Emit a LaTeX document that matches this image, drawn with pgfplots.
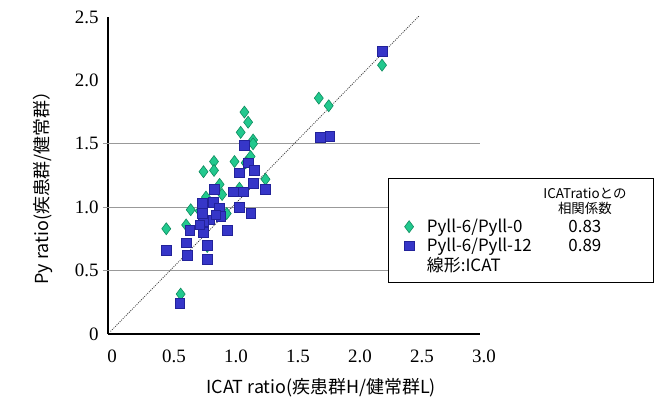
\documentclass[border=0pt]{standalone}
\usepackage{fontspec}
\setmainfont{Liberation Serif}
\newfontfamily\jp{Noto Sans CJK JP}
\usepackage{pgfplots}
\pgfplotsset{compat=1.18}
\definecolor{mgreen}{HTML}{22C88E}
\definecolor{mgreenD}{HTML}{0E8C5E}
\definecolor{mblue}{HTML}{3636C8}
\definecolor{mblueD}{HTML}{22229A}
\begin{document}
\begin{tikzpicture}
\path[use as bounding box] (-108bp,-66bp) rectangle (560bp,334bp);
\begin{axis}[
  at={(0,0)}, anchor=south west,
  scale only axis, width=372bp, height=317bp,
  xmin=0, xmax=3, ymin=0, ymax=2.5,
  axis x line*=bottom, axis y line*=left,
  axis line style={line width=2.4bp, black},
  xtick={0,0.5,1,1.5,2,2.5,3},
  xticklabels={0,0.5,1.0,1.5,2.0,2.5,3.0},
  ytick={0,0.5,1,1.5,2,2.5},
  yticklabels={0,0.5,1.0,1.5,2.0,2.5},
  major tick length=0pt,
  tick align=outside,
  extra y ticks={0.5,1,1.5},
  extra y tick labels={},
  extra y tick style={grid=major, major tick length=5bp, tick style={draw=gray!80, line width=0.8bp}},
  major grid style={draw=gray!80, line width=0.9bp},
  /pgf/number format/assume math mode=true,
  ticklabel style={font=\fontsize{19}{21}\selectfont},
  xticklabel style={yshift=-12bp, xshift=4bp},
  yticklabel style={xshift=-6bp},
  xlabel={ICAT ratio(疾患群H/健常群L)},
  ylabel={Py ratio(疾患群/健常群）},
  label style={font=\jp\fontsize{18}{20}\selectfont},
  xlabel style={at={(axis description cs:0.573,-0.170)}, anchor=center},
  ylabel style={at={(axis description cs:-0.175,0.475)}, anchor=center, rotate=0},
  clip=true,
  legend style={at={(axis description cs:0.753,0.492)}, anchor=north west,
    draw=black, line width=1bp, fill=white,
    font=\jp\fontsize{17}{19}\selectfont,
    inner xsep=12bp, inner ysep=9bp, row sep=2bp,
    nodes={inner sep=1bp}},
  legend cell align=left,
]
\addlegendimage{empty legend}
\addlegendentry{\makebox[150bp]{}\makebox[40bp][c]{\fontsize{13.5}{12.5}\selectfont\shortstack{ICATratioとの\\相関係数}}\hspace*{36bp}}

\addplot[only marks, mark=diamond*, mark size=6bp, mark options={fill=mgreen, draw=mgreenD, line width=0.6bp}] coordinates {
(2.21,2.12) (1.70,1.86) (1.78,1.80) (1.10,1.75) (1.13,1.67) (1.07,1.59)
(1.17,1.53) (1.17,1.50) (1.15,1.40) (0.855,1.36) (1.02,1.36) (1.11,1.35)
(0.77,1.28) (0.855,1.29) (1.27,1.22) (0.90,1.18) (1.06,1.15) (0.667,0.98)
(0.77,1.03) (0.92,1.10) (0.957,0.95) (0.47,0.83) (0.63,0.86) (0.80,0.69)
(0.586,0.315) (0.74,0.97) (0.79,1.08)
};
\addlegendentry{\hspace*{12bp}\makebox[138bp][l]{Pyll-6/Pyll-0}\makebox[40bp][c]{0.83}}

\addplot[only marks, mark=square*, mark size=4.8bp, mark options={fill=mblue, draw=mblueD, line width=0.6bp}] coordinates {
(2.21,2.23) (1.71,1.55) (1.79,1.56) (1.10,1.49) (1.13,1.35) (1.18,1.29)
(1.06,1.27) (1.17,1.19) (1.27,1.14) (0.855,1.14) (1.01,1.12) (1.09,1.12)
(0.76,1.03) (0.85,1.04) (0.90,0.99) (1.06,1.00) (1.15,0.95) (0.91,0.93)
(0.82,0.90) (0.77,0.89) (0.66,0.82) (0.96,0.82) (0.77,0.80) (0.63,0.72)
(0.80,0.70) (0.47,0.66) (0.64,0.62) (0.80,0.59) (0.58,0.24) (0.76,0.95)
(0.87,0.94) (0.74,0.86)
};
\addlegendentry{\hspace*{12bp}\makebox[138bp][l]{Pyll-6/Pyll-12}\makebox[40bp][c]{0.89}}

\addplot[forget plot, draw=black!75, line width=0.8bp, dash pattern=on 1bp off 1.2bp] coordinates {(0.02,0.02) (2.6,2.6)};

\addlegendimage{empty legend}
\addlegendentry{\hspace*{12bp}線形:ICAT}
\end{axis}
\end{tikzpicture}
\end{document}
